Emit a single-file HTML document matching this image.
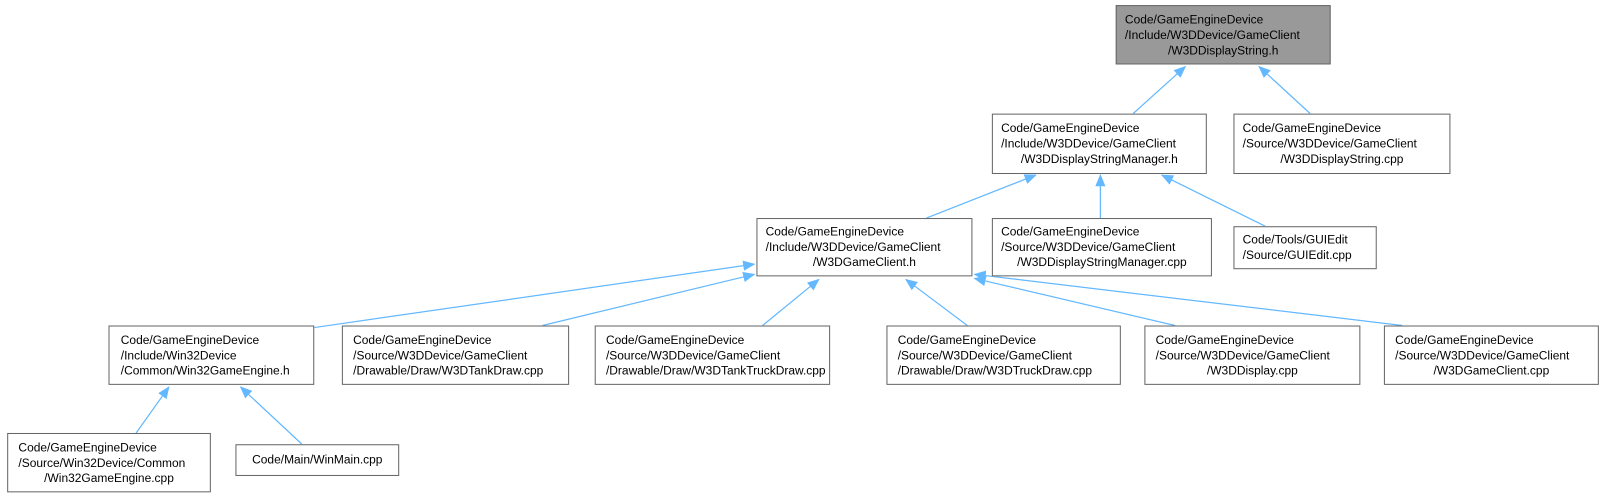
<!DOCTYPE html>
<html><head><meta charset="utf-8"><style>
body{margin:0;background:#fff;width:1605px;height:496px;overflow:hidden;position:relative;font-family:"Liberation Sans",sans-serif;}
#w{position:absolute;left:0;top:0;width:1568px;height:485px;transform:scale(1.0236);transform-origin:0 0;}
.n{position:absolute;box-sizing:border-box;border:1px solid #666;background:#fff;font-size:11.7px;line-height:15px;color:#000;text-align:center;display:flex;flex-direction:column;justify-content:center;white-space:nowrap;}
.n div{text-align:left}
svg{position:absolute;left:0;top:0}
</style></head><body><div id="w">
<svg width="1568" height="485">
<defs><marker id="a" markerWidth="12" markerHeight="10" refX="1" refY="5" orient="auto" markerUnits="userSpaceOnUse"><path d="M12,0 L0,5 L12,10 Z" fill="#63b8ff"/></marker></defs>
<g stroke="#63b8ff" stroke-width="1.2" fill="none" marker-start="url(#a)">
<line x1="1158" y1="65" x2="1107" y2="111"/>
<line x1="1230" y1="65" x2="1280" y2="111"/>
<line x1="1012" y1="171" x2="905" y2="213"/>
<line x1="1075" y1="171" x2="1075" y2="213"/>
<line x1="1135" y1="171" x2="1236" y2="221"/>
<line x1="737" y1="258" x2="307" y2="320"/>
<line x1="737" y1="268" x2="530" y2="318"/>
<line x1="800" y1="273" x2="745" y2="318"/>
<line x1="885" y1="273" x2="945" y2="318"/>
<line x1="952" y1="272" x2="1148" y2="318"/>
<line x1="952" y1="268" x2="1370" y2="318"/>
<line x1="165" y1="378" x2="133" y2="423"/>
<line x1="235" y1="378" x2="295" y2="434"/>
</g></svg>
<div class="n" style="left:1090px;top:5px;width:210px;height:58px;background:#999;"><div style="text-align:left;padding-left:8px">Code/GameEngineDevice<br>/Include/W3DDevice/GameClient</div><div style="text-align:center">/W3DDisplayString.h</div></div>
<div class="n" style="left:969px;top:111px;width:210px;height:59px;"><div style="padding-left:8px">Code/GameEngineDevice<br>/Include/W3DDevice/GameClient</div><div style="text-align:center">/W3DDisplayStringManager.h</div></div>
<div class="n" style="left:1205px;top:111px;width:212px;height:59px;"><div style="padding-left:8px">Code/GameEngineDevice<br>/Source/W3DDevice/GameClient</div><div style="text-align:center">/W3DDisplayString.cpp</div></div>
<div class="n" style="left:739px;top:213px;width:211px;height:57px;"><div style="padding-left:8px">Code/GameEngineDevice<br>/Include/W3DDevice/GameClient</div><div style="text-align:center">/W3DGameClient.h</div></div>
<div class="n" style="left:969px;top:213px;width:215px;height:57px;"><div style="padding-left:8px">Code/GameEngineDevice<br>/Source/W3DDevice/GameClient</div><div style="text-align:center">/W3DDisplayStringManager.cpp</div></div>
<div class="n" style="left:1205px;top:221px;width:140px;height:42px;"><div style="padding-left:8px">Code/Tools/GUIEdit<br>/Source/GUIEdit.cpp</div></div>
<div class="n" style="left:106px;top:318px;width:201px;height:58px;"><div style="padding-left:11px">Code/GameEngineDevice<br>/Include/Win32Device<br>/Common/Win32GameEngine.h</div></div>
<div class="n" style="left:334px;top:318px;width:222px;height:58px;"><div style="padding-left:10px">Code/GameEngineDevice<br>/Source/W3DDevice/GameClient<br>/Drawable/Draw/W3DTankDraw.cpp</div></div>
<div class="n" style="left:581px;top:318px;width:230px;height:58px;"><div style="padding-left:10px">Code/GameEngineDevice<br>/Source/W3DDevice/GameClient<br>/Drawable/Draw/W3DTankTruckDraw.cpp</div></div>
<div class="n" style="left:866px;top:318px;width:229px;height:58px;"><div style="padding-left:10px">Code/GameEngineDevice<br>/Source/W3DDevice/GameClient<br>/Drawable/Draw/W3DTruckDraw.cpp</div></div>
<div class="n" style="left:1118px;top:318px;width:211px;height:58px;"><div style="padding-left:10px">Code/GameEngineDevice<br>/Source/W3DDevice/GameClient</div><div style="text-align:center">/W3DDisplay.cpp</div></div>
<div class="n" style="left:1352px;top:318px;width:210px;height:58px;"><div style="padding-left:10px">Code/GameEngineDevice<br>/Source/W3DDevice/GameClient</div><div style="text-align:center">/W3DGameClient.cpp</div></div>
<div class="n" style="left:7px;top:423px;width:199px;height:58px;"><div style="padding-left:10px">Code/GameEngineDevice<br>/Source/Win32Device/Common</div><div style="text-align:center">/Win32GameEngine.cpp</div></div>
<div class="n" style="left:230px;top:434px;width:160px;height:31px;"><div style="text-align:center">Code/Main/WinMain.cpp</div></div>
</div></body></html>
